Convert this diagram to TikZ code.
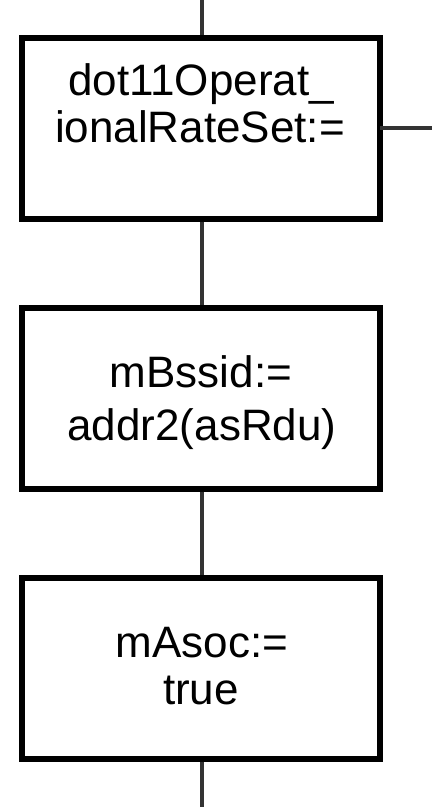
\documentclass[tikz,border=0pt]{standalone}
\usepackage{fontspec}
\setmainfont{Liberation Sans}
\begin{document}
\begin{tikzpicture}[x=1pt, y=-1pt,
  actionbox/.style={draw=black, line width=6pt, fill=white, minimum width=358pt,
    minimum height=181pt, inner sep=0pt, outer sep=0pt},
  boxtext/.style={anchor=base, inner sep=0pt, font=\fontsize{44}{47}\selectfont},
  flow/.style={draw=black!80, line width=3.2pt}]
  \useasboundingbox (0,0) rectangle (441,807);
  \fill[white] (0,0) rectangle (441,807);

  % ends of the flow line above and below the chain
  \coordinate (top) at (202,0);
  \coordinate (bottom) at (202,807);
  \coordinate (side) at (432,128);

  % flow connectors (drawn first so the boxes sit on top)
  \path[flow] (top) -- (202,128);
  \path[flow] (202,128) -- (202,398);
  \path[flow] (202,398) -- (202,668);
  \path[flow] (202,668) -- (bottom);

  % action boxes
  \node[actionbox] (b1) at (201,128) {};
  \node[actionbox] (b2) at (201,398) {};
  \node[actionbox] (b3) at (201,668) {};

  \path[flow] (b1.east) -- (side);

  % box texts
  \node[boxtext] (t1a) at (201,95) {dot11Operat\_};
  \node[boxtext] (t1b) at (200,142) {ionalRateSet:=};
  \node[boxtext] (t2a) at (201,387) {mBssid:=};
  \node[boxtext] (t2b) at (202,440) {addr2(asRdu)};
  \node[boxtext] (t3a) at (202,657) {mAsoc:=};
  \node[boxtext] (t3b) at (201,704) {true};
\end{tikzpicture}
\end{document}
